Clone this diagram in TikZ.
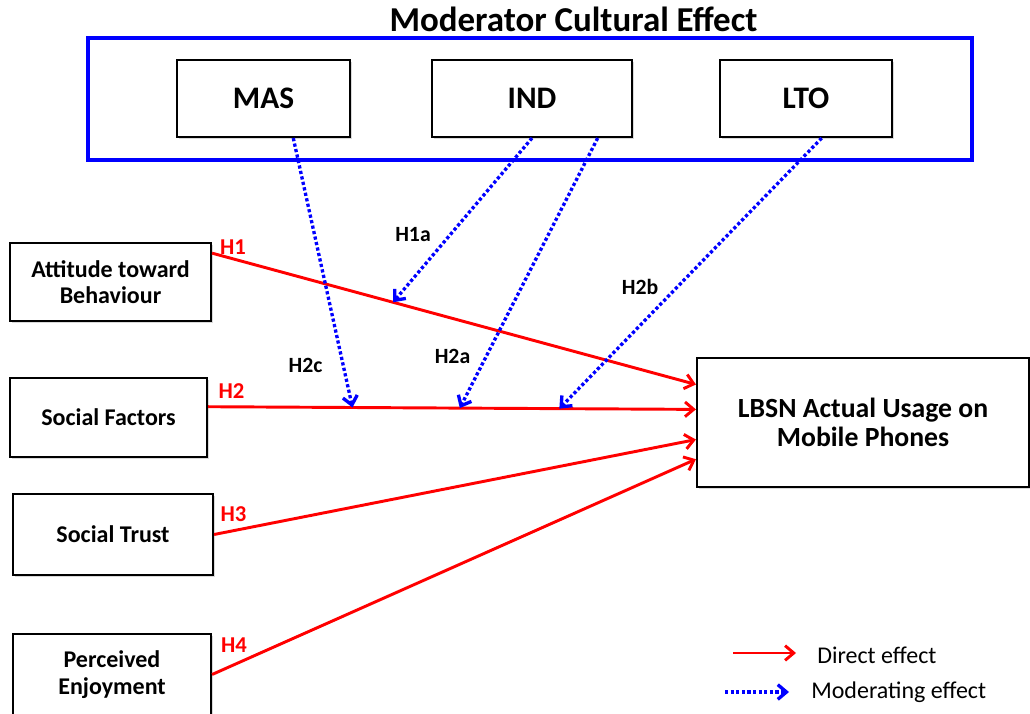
\documentclass[tikz,border=0pt]{standalone}
\usepackage{fontspec}
\setmainfont{Carlito}
\usetikzlibrary{arrows.meta,shadows,calc}

\begin{document}
\begin{tikzpicture}[x=0.75pt,y=-0.75pt,
  sz/.style 2 args={minimum width=#1*0.75pt, minimum height=#2*0.75pt},
  box/.style={draw=black, line width=1.6pt, fill=white, inner sep=0pt, align=center,
    font=\bfseries\fontsize{18}{20}\selectfont,
    drop shadow={shadow xshift=1.2pt, shadow yshift=-1.2pt, opacity=0.3}},
  tip/.style={-{Straight Barb[length=6.5pt,width=11pt]}},
  direct/.style={draw=red, line width=2.2pt, tip},
  moderate/.style={draw=blue, line width=2.5pt, dash pattern=on 2.4pt off 1.8pt, tip},
  hlab/.style={text=red, inner sep=0pt, font=\bfseries\fontsize{17}{20}\selectfont},
  mlab/.style={text=black, inner sep=0pt, font=\bfseries\fontsize{16.3}{19}\selectfont},
  legtext/.style={inner sep=0pt, anchor=west, font=\fontsize{18}{21}\selectfont}
]
\useasboundingbox (0,0) rectangle (1030,713);
\clip (0,0) rectangle (1030,713);

% cultural moderators
\node[font=\bfseries\fontsize{26.2}{30}\selectfont, inner sep=0pt] (title) at (573.5,19) {Moderator Cultural Effect};
\node[draw=blue, line width=3pt, sz={884}{122}] (frame) at (530,99) {};
\node[box, sz={173}{77}, font=\bfseries\fontsize{23.5}{26}\selectfont] (mas) at (263.5,98.5) {MAS};
\node[box, sz={200}{77}, font=\bfseries\fontsize{23.5}{26}\selectfont] (ind) at (532,98.5) {IND};
\node[box, sz={172}{77}, font=\bfseries\fontsize{23.5}{26}\selectfont] (lto) at (806,98.5) {LTO};

% constructs
\node[box, sz={201}{78}] (att) at (110.5,282) {Attitude toward\\Behaviour};
\node[box, sz={197}{79}] (soc) at (108.5,417.5) {Social Factors};
\node[box, sz={200}{81}] (tru) at (113,534.5) {Social Trust};
\node[box, sz={198}{81}] (enj) at (112,674.5) {Perceived\\Enjoyment};
\node[box, sz={332}{129}, font=\bfseries\fontsize{20.8}{22}\selectfont] (use) at (863,422.5) {LBSN Actual Usage on\\Mobile Phones};

% direct effects
\draw[direct] ($(att.north east)!0.14!(att.south east)$) -- coordinate[pos=0.374] (p1a) ($(use.north west)!0.21!(use.south west)$);
\draw[direct] ($(soc.north east)!0.367!(soc.south east)$)
  -- coordinate[pos=0.296] (p2c) coordinate[pos=0.516] (p2a) coordinate[pos=0.72] (p2b)
  ($(use.north west)!0.40!(use.south west)$);
\draw[direct] (tru.east) -- ($(use.north west)!0.63!(use.south west)$);
\draw[direct] (enj.east) -- ($(use.north west)!0.78!(use.south west)$);

% moderating effects
\draw[moderate] ($(mas.south west)!0.67!(mas.south east)$) -- (p2c);
\draw[moderate] (ind.south) -- (p1a);
\draw[moderate] ($(ind.south west)!0.825!(ind.south east)$) -- (p2a);
\draw[moderate] ($(lto.south west)!0.59!(lto.south east)$) -- (p2b);

% hypothesis labels
\node[hlab] (h1) at (233,247) {H1};
\node[hlab] (h2) at (231.5,391) {H2};
\node[hlab] (h3) at (233.5,514.5) {H3};
\node[hlab] (h4) at (234,645) {H4};
\node[mlab] (h1a) at (413,235) {H1a};
\node[mlab] (h2b) at (640,287) {H2b};
\node[mlab] (h2c) at (305.5,365.5) {H2c};
\node[mlab] (h2a) at (452.5,356) {H2a};

% legend
\coordinate (ld1) at (733,653);
\coordinate (ld2) at (796,653);
\coordinate (lm1) at (725,692);
\coordinate (lm2) at (789,692);
\draw[direct] (ld1) -- (ld2);
\draw[moderate] (lm1) -- (lm2);
\node[legtext] (ldt) at (817,655) {Direct effect};
\node[legtext] (lmt) at (811,692) {Moderating effect};
\end{tikzpicture}
\end{document}
